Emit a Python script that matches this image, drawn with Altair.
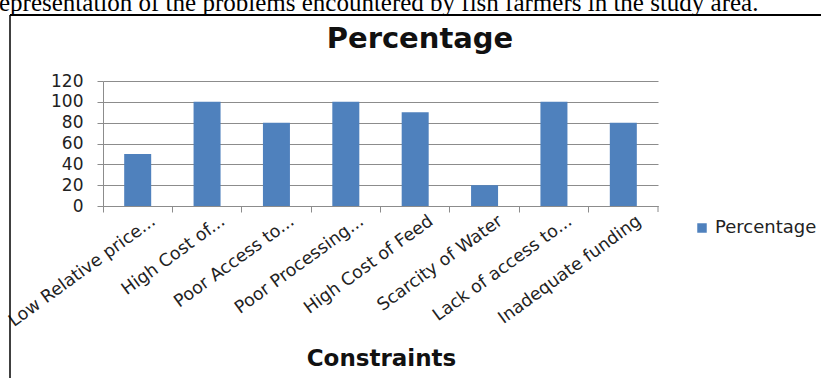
import altair as alt
import pandas as pd

categories = ["Low Relative price...", "High Cost of...", "Poor Access to...",
              "Poor Processing...", "High Cost of Feed", "Scarcity of Water",
              "Lack of access to...", "Inadequate funding"]
values = [50, 100, 80, 100, 90, 20, 100, 80]
series = ["Percentage"] * len(categories)
y_ticks = [0, 20, 40, 60, 80, 100, 120]
caption = "epresentation of the problems encountered by fish farmers in the study area."
chart_title = "Percentage"

df = pd.DataFrame({"constraint": categories, "value": values, "series": series})
one = pd.DataFrame({"a": [0]})

BLUE = "#4F81BD"
GRID = "#8C8C8C"
W, H = 555, 125

bars = alt.Chart(df).mark_bar(size=27).encode(
    x=alt.X("constraint:N", sort=categories,
            scale=alt.Scale(paddingInner=0, paddingOuter=0),
            axis=alt.Axis(title="Constraints", labelAngle=-36, labelAlign="right",
                          labelBaseline="middle", bandPosition=0, labelOffset=16,
                          labelPadding=7, tickSize=6, tickColor=GRID, domainColor=GRID,
                          labelFont="DejaVu Sans", labelFontSize=17.5, labelColor="#222",
                          titleFont="DejaVu Sans", titleFontWeight="bold", titleFontSize=23,
                          titleColor="#111", titleX=278, titleY=159,
                          titleBaseline="alphabetic", titleAnchor="middle", labelLimit=300)),
    y=alt.Y("value:Q", scale=alt.Scale(domain=[0, 120], nice=False),
            axis=alt.Axis(title=None, values=y_ticks, tickSize=6, tickColor=GRID,
                          domainColor=GRID, gridColor=GRID, gridOpacity=1,
                          labelFont="DejaVu Sans", labelFontSize=17, labelColor="#222",
                          labelPadding=14)),
    color=alt.Color("series:N", scale=alt.Scale(range=[BLUE]),
                    legend=alt.Legend(title=None, orient="none", legendX=590, legendY=138,
                                      symbolType="square", symbolSize=90,
                                      labelFont="DejaVu Sans", labelFontSize=18,
                                      labelColor="#222")),
)

end_tick = alt.Chart(one).mark_rule(color=GRID).encode(
    x=alt.value(W), y=alt.value(H), y2=alt.value(H + 6))

frame_left = alt.Chart(one).mark_rule(color="black", strokeWidth=1.5).encode(
    x=alt.value(-93), y=alt.value(-66), y2=alt.value(300))
frame_top = alt.Chart(one).mark_rule(color="black", strokeWidth=2).encode(
    x=alt.value(-93), x2=alt.value(720), y=alt.value(-66))

cap = alt.Chart(one).mark_text(text=caption, font="Liberation Serif", fontSize=25,
                               align="left", baseline="alphabetic", color="black").encode(
    x=alt.value(-104), y=alt.value(-70))

ttl = alt.Chart(one).mark_text(text=chart_title, font="DejaVu Sans", fontWeight="bold",
                               fontSize=29, align="center", baseline="alphabetic",
                               color="#111").encode(
    x=alt.value(317), y=alt.value(-33))

chart = alt.layer(bars, end_tick, frame_left, frame_top, cap, ttl).properties(
    width=W, height=H,
    autosize=alt.AutoSizeParams(type="none"),
    padding={"left": 103, "top": 81, "right": 163, "bottom": 172},
).configure_view(stroke=None)

chart.save("out.html", embed_options={"renderer": "svg", "actions": False})
